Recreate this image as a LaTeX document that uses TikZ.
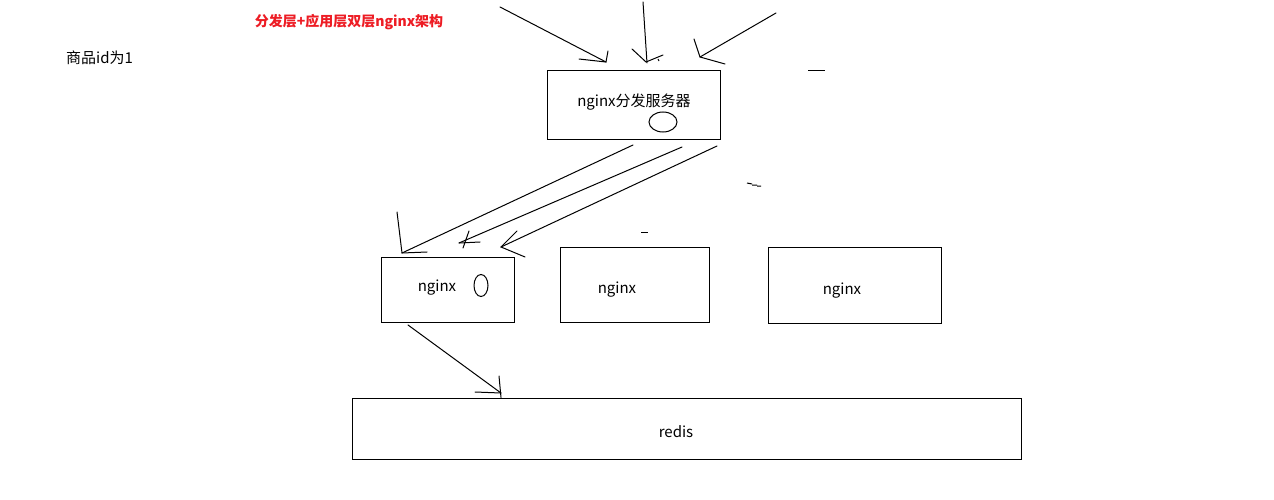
\documentclass[tikz,border=0pt]{standalone}
\usepackage{fontspec}
\setmainfont{Noto Sans CJK SC}
\definecolor{titlered}{RGB}{237,28,36}
\tikzset{
  box/.style={draw, line width=1pt, inner sep=0pt},
  lbl/.style={inner sep=0pt, font=\fontsize{15}{18}\selectfont},
  pen/.style={line width=1pt, line cap=round},
  scrib/.style={line width=1pt}
}
\begin{document}
\begin{tikzpicture}[x=1pt,y=-1pt]
\useasboundingbox (0,0) rectangle (1274,500);
% title and note
\node[inner sep=0pt, text=titlered, font=\fontsize{14}{16}\selectfont\bfseries] (title) at (349,22) {分发层+应用层双层nginx架构};
\node[lbl, anchor=west] (note) at (66,58) {商品id为1};
% boxes
\node[box, minimum width=173pt, minimum height=69pt] (disp) at (633.5,105.5) {};
\node[lbl] (disptext) at (634,102) {nginx分发服务器};
\draw[pen] (663,122) ellipse [x radius=14, y radius=10];
\node[box, minimum width=133pt, minimum height=65pt] (n1) at (447.5,289.5) {};
\node[lbl] (n1text) at (437,288) {nginx};
\draw[pen] (481,285.5) ellipse [x radius=7, y radius=11];
\node[box, minimum width=149pt, minimum height=75pt] (n2) at (634.5,284.5) {};
\node[lbl] (n2text) at (617,290) {nginx};
\node[box, minimum width=173pt, minimum height=76pt] (n3) at (854.5,285) {};
\node[lbl] (n3text) at (842,291) {nginx};
\node[box, minimum width=669pt, minimum height=61pt] (redis) at (686.5,428.5) {};
\node[lbl] (redistext) at (676,432) {redis};
% incoming requests at top
\coordinate (r1s) at (500,7);   \coordinate (r1e) at (606,62);
\coordinate (r2s) at (643,2);   \coordinate (r2e) at (647,63);
\coordinate (r3s) at (776,13);  \coordinate (r3e) at (700,57);
\draw[pen] (r1s) -- (r1e);
\draw[pen] (579,59) -- (r1e) -- (608,51);
\draw[pen] (r2s) -- (r2e);
\draw[pen] (632,49) -- (646,62) -- (663,55);
\draw[scrib] (658,59) -- (659,61);
\draw[pen] (r3s) -- (r3e);
\draw[pen] (694,39) -- (r3e) -- (725,64);
% stray marks
\draw[scrib] (808,71) -- (825,71);
\draw[scrib] (747,183) -- (752,184) (752,185) -- (757,185) (757,186) -- (761,186);
\draw[scrib] (641,232) -- (648,232);
% dispatch to nginx 1
\coordinate (a1s) at (633,145); \coordinate (a1e) at (402,253);
\coordinate (a2s) at (682,147); \coordinate (a2e) at (459,243);
\coordinate (a3s) at (717,146); \coordinate (a3e) at (501,247);
\draw[pen] (a1s) -- (a1e);
\draw[pen] (397,212) -- (a1e) -- (427,252);
\draw[pen] (a2s) -- (a2e);
\draw[pen] (469,231) -- (463,248);
\draw[pen] (a2e) -- (480,242);
\draw[pen] (a3s) -- (a3e);
\draw[pen] (517,231) -- (a3e) -- (525,257);
% nginx 1 to redis
\coordinate (bs) at (408,325); \coordinate (be) at (501,393);
\draw[pen] (bs) -- (be);
\draw[pen] (475,392) -- (be);
\draw[pen] (499,376) -- (redis.north -| be);
\end{tikzpicture}
\end{document}
